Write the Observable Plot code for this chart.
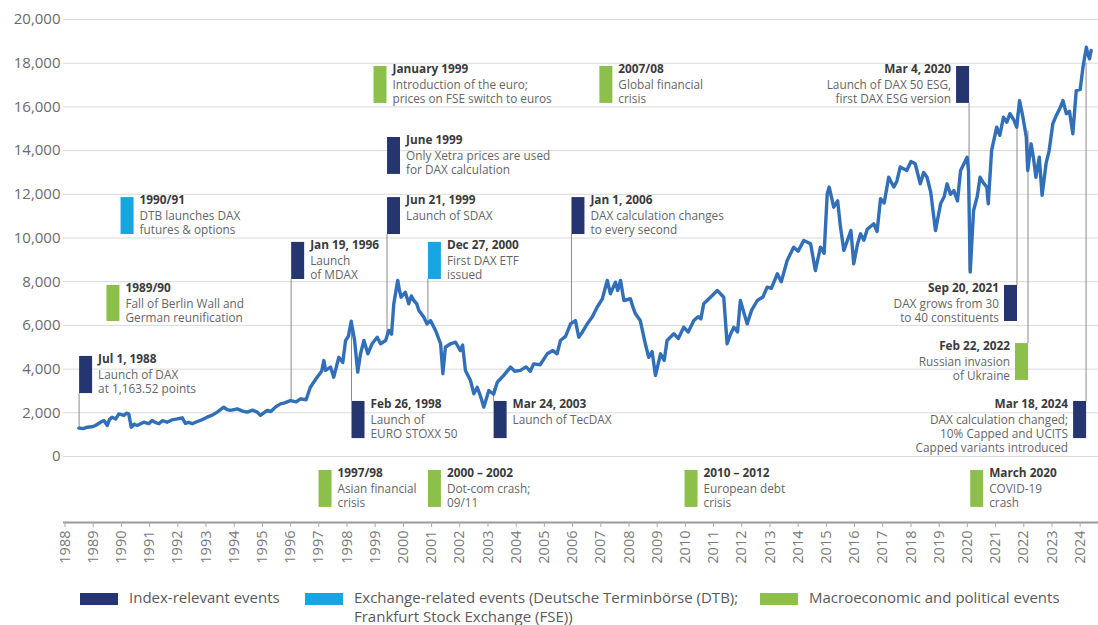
<!DOCTYPE html>
<html>
<head>
<meta charset="utf-8">
<script src="https://cdn.jsdelivr.net/npm/d3@7"></script>
<script src="https://cdn.jsdelivr.net/npm/@observablehq/plot@0.6"></script>
<style>
  html, body { margin: 0; padding: 0; background: #fff; }
  #wrap { position: relative; width: 1098px; height: 625px; font-family: "Open Sans", sans-serif; }
  #legend { position: absolute; top: 588px; left: 0; width: 1098px; height: 37px; }
  .item { position: absolute; top: 0; display: flex; align-items: flex-start; }
  .sw { width: 38px; height: 12px; margin-top: 5px; margin-right: 11px; flex: none; }
  .lt { font-size: 15px; line-height: 19px; color: #5a5a5a; }
</style>
</head>
<body>
<div id="wrap"><div id="chart"></div><div id="legend"></div></div>
<script>
// ---- DAX series (decimal year, index points) ----
const daxYears = [
  1988.49, 1988.65, 1988.79, 1988.95, 1989.08, 1989.26, 1989.38, 1989.50, 1989.58, 1989.67, 1989.80, 1989.91,
  1990.09, 1990.18, 1990.26, 1990.35, 1990.45, 1990.56, 1990.79, 1990.97, 1991.09, 1991.20, 1991.33,
  1991.45, 1991.62, 1991.80, 1991.98, 1992.16, 1992.27, 1992.40, 1992.51, 1992.65, 1992.80, 1993.04,
  1993.20, 1993.40, 1993.63, 1993.75, 1993.87, 1994.11, 1994.30, 1994.46, 1994.65, 1994.82, 1994.93,
  1995.17, 1995.30, 1995.46, 1995.64, 1995.76, 1996.00, 1996.20, 1996.35, 1996.55, 1996.70, 1996.94,
  1997.10, 1997.18, 1997.24, 1997.42, 1997.53, 1997.71, 1997.85, 1997.95, 1998.05, 1998.15, 1998.27,
  1998.38, 1998.48, 1998.60, 1998.74, 1998.89, 1999.07, 1999.19, 1999.37, 1999.48, 1999.58, 1999.66,
  1999.80, 1999.86, 1999.92, 2000.07, 2000.19, 2000.28, 2000.37, 2000.47, 2000.55, 2000.72, 2000.84,
  2000.96, 2001.05, 2001.14, 2001.32, 2001.40, 2001.49, 2001.67, 2001.85, 2002.02, 2002.10, 2002.20,
  2002.38, 2002.50, 2002.62, 2002.75, 2002.85, 2003.03, 2003.20, 2003.33, 2003.55, 2003.80, 2003.95,
  2004.15, 2004.35, 2004.50, 2004.62, 2004.85, 2005.10, 2005.30, 2005.45, 2005.57, 2005.75, 2005.93,
  2006.10, 2006.22, 2006.35, 2006.52, 2006.70, 2006.87, 2007.05, 2007.23, 2007.34, 2007.52, 2007.60,
  2007.70, 2007.82, 2008.05, 2008.15, 2008.23, 2008.40, 2008.58, 2008.70, 2008.82, 2008.94, 2009.12,
  2009.25, 2009.35, 2009.59, 2009.75, 2009.94, 2010.10, 2010.30, 2010.45, 2010.55, 2010.65, 2010.89,
  2011.13, 2011.36, 2011.48, 2011.60, 2011.72, 2011.85, 2011.95, 2012.19, 2012.35, 2012.55, 2012.75,
  2012.90, 2013.05, 2013.26, 2013.40, 2013.61, 2013.84, 2014.00, 2014.20, 2014.44, 2014.61, 2014.79,
  2014.92, 2015.03, 2015.10, 2015.26, 2015.40, 2015.50, 2015.62, 2015.75, 2015.87, 2015.97, 2016.10,
  2016.21, 2016.33, 2016.45, 2016.68, 2016.80, 2016.92, 2017.05, 2017.21, 2017.39, 2017.50, 2017.62,
  2017.85, 2018.00, 2018.15, 2018.33, 2018.45, 2018.57, 2018.70, 2018.81, 2018.87, 2019.05, 2019.18,
  2019.28, 2019.40, 2019.52, 2019.65, 2019.76, 2019.99, 2020.04, 2020.10, 2020.22, 2020.35, 2020.45,
  2020.58, 2020.69, 2020.74, 2020.86, 2021.04, 2021.15, 2021.28, 2021.40, 2021.51, 2021.65, 2021.75,
  2021.85, 2021.97, 2022.09, 2022.14, 2022.26, 2022.35, 2022.43, 2022.55, 2022.65, 2022.79, 2022.90,
  2023.03, 2023.15, 2023.27, 2023.39, 2023.51, 2023.62, 2023.74, 2023.86, 2024.00, 2024.10, 2024.22,
  2024.27, 2024.33, 2024.39
];
const daxValues = [
  1300, 1280, 1340, 1360, 1420, 1570, 1650, 1420, 1700, 1800, 1720, 1950,
  1880, 1980, 1950, 1340, 1480, 1420, 1570, 1500, 1650, 1560, 1500,
  1640, 1570, 1680, 1720, 1770, 1520, 1560, 1500, 1580, 1650, 1800,
  1880, 2030, 2260, 2150, 2110, 2180, 2080, 2030, 2120, 2030, 1880,
  2110, 2060, 2260, 2410, 2440, 2560, 2500, 2640, 2600, 3170, 3630,
  3900, 4390, 3940, 4090, 3630, 4540, 4300, 5310, 5500, 6190, 5310,
  3860, 4700, 5310, 4700, 5160, 5460, 5160, 5310, 5770, 5600, 6990,
  8060, 7600, 7290, 7520, 6990, 7350, 7140, 7000, 6680, 6380, 6070,
  6220, 6000, 5770, 5160, 3790, 5000, 5160, 5230, 4850, 5100, 3940,
  3480, 2870, 3170, 2700, 2260, 3020, 2850, 3400, 3700, 4090, 3900,
  3940, 4100, 3900, 4240, 4200, 4700, 4850, 4700, 5310, 5500, 6070,
  6220, 5460, 5700, 6070, 6400, 6830, 7200, 8060, 7450, 7980, 7600,
  8060, 7140, 7220, 6800, 6530, 6220, 5160, 4540, 4800, 3710, 4700,
  4400, 5310, 5620, 5400, 5920, 5700, 6220, 6400, 6300, 6990, 7290,
  7600, 7290, 5160, 5600, 5920, 5700, 7140, 6070, 6700, 7140, 7300,
  7750, 7700, 8360, 8000, 8970, 9580, 9400, 9890, 9740, 8510, 9580,
  9300, 12020, 12330, 11410, 11700, 10500, 9430, 9900, 10340, 8820, 9700,
  10190, 9900, 10400, 10650, 10300, 11800, 11600, 12780, 12330, 12600, 13250,
  13090, 13500, 13400, 12480, 13000, 12780, 12100, 10950, 10340, 11570, 11900,
  12480, 12000, 12170, 11700, 13090, 13700, 13090, 8440, 11260, 11900, 12780,
  12500, 12330, 11570, 14010, 15070, 14700, 15530, 15300, 15690, 15400, 15070,
  16290, 15530, 14610, 13090, 14310, 13600, 12780, 13700, 11950, 13400, 14000,
  15230, 15600, 15900, 16290, 15690, 15800, 14770, 16750, 16800, 17820, 18730,
  18430, 18200, 18580
];

// ---- axes ----
const yTicks = [0, 2000, 4000, 6000, 8000, 10000, 12000, 14000, 16000, 18000, 20000];
const yearTicks = [1988, 1989, 1990, 1991, 1992, 1993, 1994, 1995, 1996, 1997, 1998, 1999,
  2000, 2001, 2002, 2003, 2004, 2005, 2006, 2007, 2008, 2009, 2010, 2011, 2012, 2013,
  2014, 2015, 2016, 2017, 2018, 2019, 2020, 2021, 2022, 2023, 2024];
const xDomain = [1987.947, 2024.65];
const yDomain = [-3020, 20000];

// ---- events ----
const eventTitles = ["Jul 1, 1988", "1989/90", "1990/91", "Jan 19, 1996", "Feb 26, 1998", "1997/98",
  "January 1999", "June 1999", "Jun 21, 1999", "Dec 27, 2000", "2000 – 2002", "Mar 24, 2003",
  "Jan 1, 2006", "2007/08", "2010 – 2012", "Mar 4, 2020", "March 2020", "Sep 20, 2021",
  "Feb 22, 2022", "Mar 18, 2024"];
const eventTexts = ["Launch of DAX\nat 1,163.52 points", "Fall of Berlin Wall and\nGerman reunification",
  "DTB launches DAX\nfutures & options", "Launch\nof MDAX", "Launch of\nEURO STOXX 50",
  "Asian financial\ncrisis", "Introduction of the euro;\nprices on FSE switch to euros",
  "Only Xetra prices are used\nfor DAX calculation", "Launch of SDAX", "First DAX ETF\nissued",
  "Dot-com crash;\n09/11", "Launch of TecDAX", "DAX calculation changes\nto every second",
  "Global financial\ncrisis", "European debt\ncrisis", "Launch of DAX 50 ESG,\nfirst DAX ESG version",
  "COVID-19\ncrash", "DAX grows from 30\nto 40 constituents", "Russian invasion\nof Ukraine",
  "DAX calculation changed;\n10% Capped and UCITS\nCapped variants introduced"];
const eventKinds = ["index", "macro", "exchange", "index", "index", "macro",
  "macro", "index", "index", "exchange", "macro", "index",
  "index", "macro", "macro", "index", "macro", "index",
  "macro", "index"];
const eventYears = [1988.50, 1989.47, 1989.97, 1996.02, 1998.16, 1996.99,
  1998.94, 1999.42, 1999.42, 2000.87, 2000.87, 2003.20,
  2005.96, 2006.95, 2009.97, 2020.06, 2020.10, 2021.76,
  2022.15, 2024.21];
const eventTops = [4580, 7830, 11850, 9800, 2520, -640,
  17850, 14600, 11850, 9800, -640, 2520,
  11850, 17850, -640, 17850, -640, 7830,
  5170, 2520];
const eventBottoms = [2880, 6180, 10160, 8100, 820, -2330,
  16160, 12910, 10160, 8100, -2330, 820,
  10160, 16160, -2330, 16160, -2330, 6180,
  3480, 820];
const eventLinkTo = [1300, null, null, 2560, 6220, null,
  null, null, 5400, 6090, null, 3110,
  6090, null, null, 8510, null, 15700,
  14900, 18000];
const eventSides = ["right", "right", "right", "right", "right", "right",
  "right", "right", "right", "right", "right", "right",
  "right", "right", "right", "left", "right", "left",
  "left", "left"];

const kindNames = ["index", "exchange", "macro"];
const kindColors = ["#25356f", "#18a6e3", "#8cc04b"];
const kindLabels = ["Index-relevant events",
  "Exchange-related events (Deutsche Terminbörse (DTB);\nFrankfurt Stock Exchange (FSE))",
  "Macroeconomic and political events"];

const dax = daxYears.map((x, i) => ({x, y: daxValues[i]}));
const events = eventTitles.map((t, i) => ({
  title: t, text: eventTexts[i], kind: eventKinds[i], x: eventYears[i],
  top: eventTops[i], bottom: eventBottoms[i], link: eventLinkTo[i], side: eventSides[i]
}));
const links = events.filter(d => d.link != null).map(d => ({
  x: d.x, y1: d.link, y2: d.link < d.bottom ? d.bottom : d.top
}));

const FS = 11.8;
function eventMarks(side) {
  const data = events.filter(d => d.side === side);
  const right = side === "right";
  return [
    Plot.ruleX(data, {x: "x", y1: "top", y2: "bottom", stroke: "kind", strokeWidth: 13, dx: right ? 6.5 : -6.5}),
    Plot.text(data, {x: "x", y: "top", text: "title", dx: right ? 19 : -18, dy: -1.5,
      textAnchor: right ? "start" : "end", lineAnchor: "top", fontWeight: "bold",
      fontSize: FS, fill: "#3a3a3a"}),
    Plot.text(data, {x: "x", y: "top", text: "text", dx: right ? 19 : -18, dy: 12.5,
      textAnchor: right ? "start" : "end", lineAnchor: "top", lineHeight: 1.2,
      fontSize: FS, fill: "#666"})
  ];
}

const chart = Plot.plot({
  width: 1098,
  height: 580,
  marginLeft: 63,
  marginRight: 0,
  marginTop: 19,
  marginBottom: 58,
  style: {fontFamily: "'Open Sans', sans-serif", background: "#fff"},
  x: {type: "linear", domain: xDomain},
  y: {domain: yDomain},
  color: {domain: kindNames, range: kindColors},
  marks: [
    Plot.gridY(yTicks, {stroke: "#dadada", strokeOpacity: 1, strokeWidth: 1}),
    Plot.axisY(yTicks, {tickSize: 0, tickPadding: 3, tickFormat: d3.format(","), fontSize: 15,
      fill: "#6b6b6b", label: null}),
    Plot.ruleY([yDomain[0]], {stroke: "#9a9a9a", strokeWidth: 2}),
    Plot.axisX(yearTicks, {anchor: "bottom", tickRotate: -90, tickSize: 5, tickPadding: 3,
      tickFormat: d => String(d), fontSize: 14.5, fill: "#7a7a7a", stroke: "#aaa", label: null}),
    Plot.ruleX(links, {x: "x", y1: "y1", y2: "y2", stroke: "#8a8a8a", strokeWidth: 1}),
    Plot.line(dax, {x: "x", y: "y", stroke: "#3170b8", strokeWidth: 3.4, strokeLinejoin: "round"}),
    ...eventMarks("right"),
    ...eventMarks("left")
  ]
});
document.getElementById("chart").appendChild(chart);

// legend
const legendLeft = [80, 305, 760];
const legend = document.getElementById("legend");
kindNames.forEach((k, i) => {
  const item = document.createElement("div");
  item.className = "item";
  item.style.left = legendLeft[i] + "px";
  const sw = document.createElement("div");
  sw.className = "sw";
  sw.style.background = kindColors[i];
  const lt = document.createElement("div");
  lt.className = "lt";
  lt.innerHTML = kindLabels[i].split("\n").join("<br>");
  item.appendChild(sw); item.appendChild(lt);
  legend.appendChild(item);
});
</script>
</body>
</html>
